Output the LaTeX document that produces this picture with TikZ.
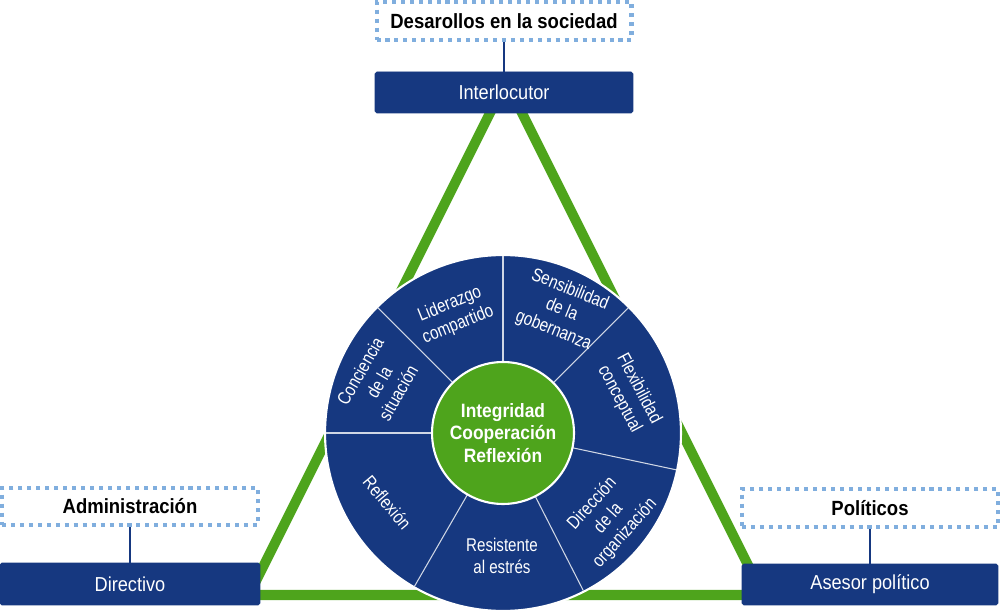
\documentclass[tikz,border=0pt]{standalone}
\usepackage{fontspec}
\setmainfont{Liberation Sans}[FakeStretch=0.9]
\newfontfamily\narrowfont{Liberation Sans}[FakeStretch=0.82]
\usetikzlibrary{calc}
\definecolor{roleblue}{RGB}{22,56,128}
\definecolor{leafgreen}{RGB}{78,164,28}
\definecolor{dotblue}{RGB}{128,174,222}
\tikzset{
	rolebox/.style={draw=roleblue, fill=roleblue, rounded corners=1pt, text=white, inner sep=0pt, font=\fontsize{11.5}{13}\selectfont},
	fieldbox/.style={draw=dotblue, line width=2.3pt, dash pattern=on 2.3pt off 2.8pt, fill=white, inner sep=0pt, font=\bfseries\fontsize{11.7}{13}\selectfont},
	link/.style={roleblue, line width=0.9pt},
	triline/.style={leafgreen, line width=5.7pt, line join=round},
	seglabel/.style={text=white, align=center, inner sep=0pt, font=\narrowfont\fontsize{10.5}{12.5}\selectfont},
	divider/.style={white!80!roleblue, line width=0.6pt}
}

\begin{document}
\begin{tikzpicture}[x=0.02cm, y=0.02cm]
			%%%%% START %%%%%
			\useasboundingbox (0, 0) rectangle (1000, 612);
			
			\draw[triline] (506, 531) -- (249, 17) -- (763, 17) -- cycle;
			
			\node[fieldbox, minimum width=5.1cm, minimum height=0.76cm] (desarrollos) at (504, 591) {Desarollos en la sociedad};
			\node[rolebox, minimum width=5.16cm, minimum height=0.82cm] (interlocutor) at (504, 519.5) {Interlocutor};
			\draw[link] (desarrollos) -- (interlocutor);
			
			\node[fieldbox, minimum width=5.12cm, minimum height=0.74cm] (administracion) at (130, 105.5) {Administración};
			\node[rolebox, minimum width=5.2cm, minimum height=0.84cm] (directivo) at (130, 28) {Directivo};
			\draw[link] (administracion) -- (directivo);
			
			\node[fieldbox, minimum width=5.12cm, minimum height=0.76cm] (politicos) at (870, 104) {Políticos};
			\node[rolebox, minimum width=5.12cm, minimum height=0.82cm] (asesor) at (870, 27.5) {Asesor político};
			\draw[link] (politicos) -- (asesor);
			
			\coordinate (hub) at (503, 179);
			\draw[white, line width=1.2pt, fill=roleblue] (hub) circle (3.56cm);
			\foreach \a in {45, 90, 135, 180, 240, 297, 348}
				\draw[divider] ([shift={(\a:1.42cm)}]hub) -- ([shift={(\a:3.54cm)}]hub);
			\draw[white, line width=1.2pt, fill=leafgreen] (hub) circle (1.42cm);
			
			\node[text=white, align=center, inner sep=0pt, font=\bfseries\fontsize{11}{12.8}\selectfont] (core) at (hub) {Integridad\\Cooperación\\Reflexión};
			
			\node[seglabel, rotate=-22] (sensibilidad) at ([shift={(64.4:2.72cm)}]hub) {Sensibilidad\\de la\\gobernanza};
			\node[seglabel, rotate=22] (liderazgo) at ([shift={(112.5:2.56cm)}]hub) {Liderazgo\\compartido};
			\node[seglabel, rotate=60] (conciencia) at ([shift={(157.6:2.68cm)}]hub) {Conciencia\\de la\\situación};
			\node[seglabel, rotate=-50] (reflexion) at ([shift={(211:2.7cm)}]hub) {Reflexión};
			\node[seglabel] (resistente) at ([shift={(269.5:2.46cm)}]hub) {Resistente\\al estrés};
			\node[seglabel, rotate=48] (direccion) at ([shift={(321:2.72cm)}]hub) {Dirección\\de la\\organización};
			\node[seglabel, rotate=-62] (flexibilidad) at ([shift={(17.2:2.64cm)}]hub) {Flexibilidad\\conceptual};
			
			%%%%% END %%%%%
		\end{tikzpicture}
\end{document}
